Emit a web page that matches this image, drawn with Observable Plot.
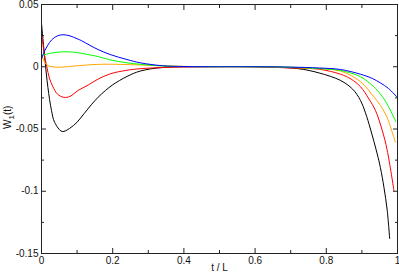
<!DOCTYPE html>
<html>
<head>
<meta charset="utf-8">
<script src="https://cdn.jsdelivr.net/npm/d3@7"></script>
<script src="https://cdn.jsdelivr.net/npm/@observablehq/plot@0.6"></script>
<style>
  html, body { margin: 0; padding: 0; background: #fff; }
  svg { display: block; }
</style>
</head>
<body>
<div id="chart"></div>
<script>
// ---- data ----
const blueT  = [0, 0.009, 0.028, 0.045, 0.06, 0.08, 0.1, 0.112, 0.136, 0.159, 0.193, 0.24, 0.277, 0.34, 0.4, 0.5, 0.6, 0.7, 0.78, 0.84, 0.896, 0.93, 0.952, 0.975, 0.998];
const blueW  = [0.006, 0.0128, 0.0214, 0.0248, 0.0257, 0.0248, 0.0225, 0.021, 0.0172, 0.0138, 0.0098, 0.0058, 0.0032, 0.0008, 0.0002, 0, 0, -0.0003, -0.001, -0.0022, -0.006, -0.0095, -0.013, -0.0175, -0.0242];

const greenT = [0, 0.028, 0.06, 0.09, 0.112, 0.136, 0.159, 0.193, 0.24, 0.277, 0.35, 0.45, 0.6, 0.7, 0.78, 0.84, 0.896, 0.933, 0.952, 0.971, 0.995];
const greenW = [0.009, 0.011, 0.012, 0.0117, 0.0108, 0.0095, 0.0082, 0.0055, 0.0032, 0.002, 0.0005, 0.0001, 0, -0.0004, -0.0015, -0.003, -0.008, -0.016, -0.022, -0.03, -0.0439];

const orangeT = [0, 0.009, 0.019, 0.035, 0.05, 0.07, 0.1, 0.159, 0.2, 0.3, 0.4, 0.5, 0.65, 0.75, 0.84, 0.896, 0.933, 0.952, 0.971, 0.994];
const orangeW = [0.0104, 0.0035, 0.0008, -0.0002, -0.0004, 0, 0.0008, 0.0019, 0.002, 0.0012, 0.0003, 0, -0.0002, -0.0012, -0.0035, -0.012, -0.024, -0.031, -0.041, -0.0607];

const redT = [0, 0.008, 0.015, 0.022, 0.032, 0.045, 0.063, 0.08, 0.103, 0.131, 0.159, 0.193, 0.24, 0.277, 0.35, 0.45, 0.6, 0.7, 0.78, 0.84, 0.87, 0.896, 0.92, 0.938, 0.957, 0.971, 0.99];
const redW = [0.027, 0.01, 0, -0.009, -0.016, -0.022, -0.0246, -0.0238, -0.019, -0.0147, -0.0099, -0.0057, -0.0028, -0.0016, -0.0005, 0, 0, -0.001, -0.002, -0.006, -0.01, -0.016, -0.026, -0.035, -0.051, -0.067, -0.0995];

const blackT = [0, 0.009, 0.018, 0.028, 0.037, 0.058, 0.079, 0.1, 0.12, 0.14, 0.159, 0.18, 0.2, 0.24, 0.277, 0.34, 0.45, 0.6, 0.72, 0.78, 0.84, 0.874, 0.896, 0.91, 0.924, 0.943, 0.952, 0.962, 0.971, 0.978];
const blackW = [0.035, 0.0075, -0.0166, -0.035, -0.0447, -0.052, -0.0495, -0.0445, -0.0375, -0.0305, -0.0245, -0.019, -0.0145, -0.0078, -0.0035, -0.0006, 0, 0, -0.0015, -0.005, -0.011, -0.018, -0.027, -0.037, -0.05, -0.07, -0.081, -0.097, -0.115, -0.138];

const seriesNames  = ["s-black", "s-red", "s-orange", "s-green", "s-blue"];
const seriesColors = ["#000000", "#ff0000", "#ffa500", "#00ff00", "#0000ff"];

const xMajor = [0, 0.2, 0.4, 0.6, 0.8, 1];
const xMinor = [0.1, 0.3, 0.5, 0.7, 0.9];
const yMajor = [0.05, 0, -0.05, -0.1, -0.15];
const yMinor = [0.025, -0.025, -0.075, -0.125];
const xLabelText = "t / L";
const yLabelText = "W1(t)";

// ---- build table ----
const seriesT = [blackT, redT, orangeT, greenT, blueT];
const seriesW = [blackW, redW, orangeW, greenW, blueW];
const rows = seriesNames.flatMap((name, k) => seriesT[k].map((t, i) => ({series: name, t, w: seriesW[k][i]})));

const fmt = d => String(d);
const axisColor = "#222";

const chart = Plot.plot({
  width: 399,
  height: 276,
  marginLeft: 41,
  marginRight: 2,
  marginTop: 4,
  marginBottom: 23,
  style: {fontFamily: "'Liberation Sans', Arial, Helvetica, sans-serif", fontSize: "10px", color: "#111", background: "#fff"},
  x: {domain: [0, 1]},
  y: {domain: [-0.15, 0.05]},
  color: {type: "ordinal", domain: seriesNames, range: seriesColors},
  marks: [
    Plot.line(rows, {x: "t", y: "w", z: "series", stroke: "series", strokeWidth: 1, curve: "catmull-rom"}),
    Plot.frame({stroke: axisColor, strokeWidth: 1}),
    // inward major ticks
    Plot.axisX({ticks: xMajor, anchor: "bottom", tickSize: -5, text: null, label: null, stroke: axisColor}),
    Plot.axisX({ticks: xMajor, anchor: "top", tickSize: -5, text: null, label: null, stroke: axisColor}),
    Plot.axisY({ticks: yMajor, anchor: "left", tickSize: -5, text: null, label: null, stroke: axisColor}),
    Plot.axisY({ticks: yMajor, anchor: "right", tickSize: -5, text: null, label: null, stroke: axisColor}),
    // inward minor ticks
    Plot.axisX({ticks: xMinor, anchor: "bottom", tickSize: -3, text: null, label: null, stroke: axisColor}),
    Plot.axisX({ticks: xMinor, anchor: "top", tickSize: -3, text: null, label: null, stroke: axisColor}),
    Plot.axisY({ticks: yMinor, anchor: "left", tickSize: -3, text: null, label: null, stroke: axisColor}),
    Plot.axisY({ticks: yMinor, anchor: "right", tickSize: -3, text: null, label: null, stroke: axisColor}),
    // tick labels
    Plot.axisX({ticks: xMajor, anchor: "bottom", tickSize: 0, tickPadding: 3, tickFormat: fmt, label: null}),
    Plot.axisY({ticks: yMajor, anchor: "left", tickSize: 0, tickPadding: 3, tickFormat: fmt, label: null}),
    // axis titles
    Plot.text([xLabelText], {text: d => d, frameAnchor: "bottom", dy: 17, fontSize: 10, fill: "#111"}),
    Plot.text([yLabelText], {text: d => d, frameAnchor: "left", dx: -34, rotate: -90, fontSize: 10, fill: "#111"})
  ]
});

document.getElementById("chart").appendChild(chart);

// subscript in the y-axis title
d3.select(chart).selectAll("text").each(function() {
  if (this.textContent === yLabelText) {
    const el = d3.select(this);
    el.text(null);
    el.append("tspan").text("W");
    el.append("tspan").attr("dy", 3).attr("font-size", 8).text("1");
    el.append("tspan").attr("dy", -3).text("(t)");
  }
});
</script>
</body>
</html>
